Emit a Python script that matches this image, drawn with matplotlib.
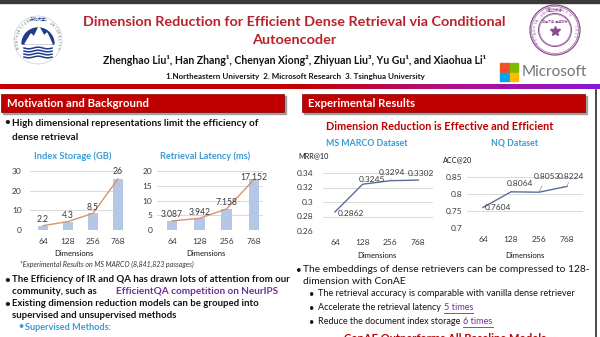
import numpy as np
import matplotlib.pyplot as plt
from matplotlib.patches import Rectangle, Circle, Polygon
from matplotlib.colors import LinearSegmentedColormap

plt.rcParams["font.family"] = ["Lato", "DejaVu Sans"]

# -----------------------------
# Data read off the poster
# -----------------------------
DIMS = ["64", "128", "256", "768"]
STORAGE_GB = [2.2, 4.3, 8.5, 26]
LATENCY_MS = [3.087, 3.942, 7.158, 17.152]
MRR10 = [0.2862, 0.3245, 0.3294, 0.3302]
ACC20 = [0.7604, 0.8064, 0.8053, 0.8224]

STORAGE_TICKS = [0, 10, 20, 30]
LATENCY_TICKS = [0, 5, 10, 15, 20]
MRR_TICKS = [0.26, 0.28, 0.3, 0.32, 0.34]
ACC_TICKS = [0.7, 0.75, 0.8, 0.85]

# -----------------------------
# Colours
# -----------------------------
RED = "#C00000"
TITLE_RED = "#B8232B"
CYAN = "#3A9BD5"
PURPLE = "#7030A0"
BAR_COLOR = "#B4C7E7"
TREND_COLOR = "#D9936B"
LINE_COLOR = "#5B6C9A"
GRID_COLOR = "#D9D9D9"
TICK_COLOR = "#3A3A3A"
TEXT = "#141414"

W, H = 600, 337
fig = plt.figure(figsize=(6, 3.37), dpi=100)
bg = fig.add_axes([0, 0, 1, 1])
bg.axis("off")


def px_axes(x0, y0, x1, y1):
    return fig.add_axes([x0 / W, 1 - y1 / H, (x1 - x0) / W, (y1 - y0) / H])


def txt(x, y, s, size, color=TEXT, weight="normal", ha="left", style="normal", **kw):
    return bg.text(x, y, s, fontsize=size, color=color, fontweight=weight,
                   ha=ha, va="center", fontstyle=style, **kw)


def right_edge(t):
    bb = t.get_window_extent(fig.canvas.get_renderer())
    return bg.transData.inverted().transform((bb.x1, bb.y0))[0]


# -----------------------------
# Header
# -----------------------------
bg.add_patch(Rectangle((0, 0), W, 3, color="#3A3A3A"))

band = LinearSegmentedColormap.from_list(
    "band", [(0, RED), (0.5, RED), (0.75, "#B0108A"), (1, "#8A18D8")])
bg.imshow(np.linspace(0, 1, 256)[None, :], extent=(0, W, 89, 84),
          cmap=band, aspect="auto")
bg.set_xlim(0, W)
bg.set_ylim(H, 0)

txt(294, 22, "Dimension Reduction for Efficient Dense Retrieval via Conditional",
    10.4, TITLE_RED, "bold", "center")
txt(294, 40, "Autoencoder", 10.4, TITLE_RED, "bold", "center")
txt(295, 60, "Zhenghao Liu¹, Han Zhang¹, Chenyan Xiong², Zhiyuan Liu³, Yu Gu¹, and Xiaohua Li¹",
    7.6, TEXT, "bold", "center")
txt(295, 77, "1.Northeastern University  2. Microsoft Research  3. Tsinghua University",
    5.8, TEXT, "bold", "center")

# Northeastern University logo
cx, cy = 38, 40
bg.add_patch(Circle((cx, cy), 24, fill=False, ec="#B8C0D0", lw=0.4))
t = np.linspace(0, np.pi, 60)
bg.add_patch(Polygon(np.c_[cx + 16 * np.cos(t), cy + 4 - 16 * np.sin(t)], color="#1E3C8C"))
bg.add_patch(Polygon([(25, 44), (31, 34), (34, 37), (39, 27), (44, 36), (47, 33), (52, 44)],
                     color="white"))
wx = np.linspace(24, 52, 40)
for k in range(4):
    bg.plot(wx, cy + 8 + 3 * k + 0.8 * np.sin((wx - 24) / 3.0), color="#1E3C8C", lw=1.1)
ring = "NORTHEASTERN 1923 UNIVERSITY"
for i, ch in enumerate(ring):
    a = np.deg2rad(200 - i * 220 / (len(ring) - 1))
    bg.text(cx + 20.5 * np.cos(a), cy - 20.5 * np.sin(a), ch, fontsize=2.3, color="#5A6478",
            ha="center", va="center", rotation=np.rad2deg(a) - 90)
bg.text(cx, cy - 21, "东北大学", fontsize=3, color="#1E3C8C", ha="center", va="center",
        family=["Noto Sans CJK SC", "DejaVu Sans"])

# Tsinghua logo
tx, ty = 555, 30
TS = "#8A4A8E"
for r, lw in [(25, 0.9), (23.5, 0.4), (16.5, 0.7), (15.5, 0.3)]:
    bg.add_patch(Circle((tx, ty), r, fill=False, ec=TS, lw=lw))
bg.plot(tx, ty + 1, marker="*", ms=7, color=TS)
ring = "TSINGHUA UNIVERSITY · 1911 ·"
for i, ch in enumerate(ring):
    a = np.deg2rad(215 - i * 250 / (len(ring) - 1))
    bg.text(tx + 20 * np.cos(a), ty - 20 * np.sin(a), ch, fontsize=2.4, color=TS,
            ha="center", va="center", rotation=np.rad2deg(a) - 90)
bg.text(tx, ty - 20, "清华大学", fontsize=3.2, color=TS, ha="center", va="center",
        family=["Noto Sans CJK SC", "DejaVu Sans"])
bg.text(tx, ty - 8, "自强不息  厚德载物", fontsize=2.2, color=TS, ha="center", va="center",
        family=["Noto Sans CJK SC", "DejaVu Sans"])

# Microsoft logo
for (x0, y0), c in zip([(500, 63), (509.5, 63), (500, 72.5), (509.5, 72.5)],
                       ["#F25022", "#7FBA00", "#00A4EF", "#FFB900"]):
    bg.add_patch(Rectangle((x0, y0), 8.7, 8.7, color=c))
txt(522, 72.5, "Microsoft", 11.0, "#737373")

# right border
bg.plot([595.5, 595.5], [90, H], color="#3C3C3C", lw=1.3)


# -----------------------------
# Section headers
# -----------------------------
def section(x0, x1, label):
    bg.add_patch(Rectangle((x0 + 1.5, 95.5), x1 - x0, 18, color="#A0A0A0"))
    bg.add_patch(Rectangle((x0, 94), x1 - x0, 18, fc=RED, ec="#8A0000", lw=0.5))
    txt(x0 + 6, 103.5, label, 8.2, "white", "bold")


section(1, 284, "Motivation and Background")
section(302, 585, "Experimental Results")

# -----------------------------
# Left column text
# -----------------------------
txt(4, 123, "•", 7, TEXT, "bold")
txt(12, 123, "High dimensional representations limit the efficiency of", 7.2, TEXT, "bold")
txt(12, 137, "dense retrieval", 7.2, TEXT, "bold")

txt(73, 156, "Index Storage (GB)", 6.7, CYAN, "bold", "center")
txt(205, 156, "Retrieval Latency (ms)", 6.6, CYAN, "bold", "center")
txt(74, 253, "Dimensions", 5.5, TEXT, ha="center")
txt(206, 253, "Dimensions", 5.5, TEXT, ha="center")
txt(20, 264, "*Experimental Results on MS MARCO (8,841,823 passages)", 5.0, "#333333",
    style="italic")

txt(4, 280, "•", 7, TEXT, "bold")
txt(12, 280, "The Efficiency of IR and QA has drawn lots of attention from our", 6.9, TEXT, "bold")
txt(12, 291, "community, such as", 6.9, TEXT, "bold")
txt(116, 291, "EfficientQA competition on NeurIPS", 7.2, PURPLE, "bold")
txt(4, 304, "•", 7, TEXT, "bold")
txt(12, 304, "Existing dimension reduction models can be grouped into", 6.9, TEXT, "bold")
txt(12, 315, "supervised and unsupervised methods", 6.9, TEXT, "bold")
txt(18, 327, "•", 6.5, CYAN, "bold")
txt(25, 327, "Supervised Methods:", 6.6, CYAN, "bold")

# -----------------------------
# Right column text
# -----------------------------
txt(440, 127, "Dimension Reduction is Effective and Efficient", 7.9, RED, "bold", "center")
txt(367, 143, "MS MARCO Dataset", 6.3, CYAN, "bold", "center")
txt(515, 143, "NQ Dataset", 6.3, CYAN, "bold", "center")
txt(298, 156, "MRR@10", 5.2, TEXT)
txt(443, 160, "ACC@20", 5.2, TEXT)
txt(377, 256, "Dimensions", 5.5, TEXT, ha="center")
txt(525, 256, "Dimensions", 5.5, TEXT, ha="center")

txt(296, 270, "•", 7, TEXT)
txt(303, 270, "The embeddings of dense retrievers can be compressed to 128-", 7.4, TEXT)
txt(303, 281, "dimension with ConAE", 7.4, TEXT)
txt(309, 294, "•", 6.5, TEXT)
txt(318, 294, "The retrieval accuracy is comparable with vanilla dense retriever", 6.6, TEXT)
for y, lead, link in [(308, "Accelerate the retrieval latency", "5 times"),
                      (322, "Reduce the document index storage", "6 times")]:
    txt(309, y, "•", 6.5, TEXT)
    x_end = right_edge(txt(318, y, lead, 6.5, TEXT)) + 3
    x_link = right_edge(txt(x_end, y, link, 6.6, PURPLE))
    bg.plot([x_end, x_link], [y + 5, y + 5], color=PURPLE, lw=0.6)
txt(445, 338, "ConAE Outperforms All Baseline Models", 8.0, RED, "bold", "center")


# -----------------------------
# Charts
# -----------------------------
def style_axes(ax, ticks, labels, xlim, ypad, xpad):
    ax.set_facecolor("none")
    for s in ax.spines.values():
        s.set_visible(False)
    ax.set_ylim(ticks[0], ticks[-1])
    ax.set_yticks(ticks, labels)
    ax.set_xlim(*xlim)
    ax.set_xticks(range(len(DIMS)), DIMS)
    ax.yaxis.grid(True, color=GRID_COLOR, lw=0.7)
    ax.set_axisbelow(True)
    ax.tick_params(axis="y", length=0, labelsize=6.0, colors=TICK_COLOR, pad=ypad)
    ax.tick_params(axis="x", length=0, labelsize=6.0, colors=TICK_COLOR, pad=xpad)


def bar_panel(ax, values, ticks, xlim, ypad, offsets):
    x = np.arange(len(values))
    style_axes(ax, ticks, [str(t) for t in ticks], xlim, ypad, 5.5)
    ax.bar(x, values, width=0.4, color=BAR_COLOR, zorder=2)
    ax.plot(x, values, color=TREND_COLOR, lw=1.0, zorder=3)
    for i, v in enumerate(values):
        ax.annotate(f"{v:g}", (i, v), xytext=offsets[i], textcoords="offset pixels",
                    ha="center", va="center", fontsize=6.2, color=TICK_COLOR,
                    annotation_clip=False, zorder=4)


def line_panel(ax, values, ticks, xlim, ypad, offsets, leaders):
    x = np.arange(len(values))
    style_axes(ax, ticks, [f"{t:g}" for t in ticks], xlim, ypad, 5.5)
    ax.plot(x, values, color=LINE_COLOR, lw=1.0, zorder=3)
    for i, v in enumerate(values):
        arrow = dict(arrowstyle="-", color="#8A8A8A", lw=0.5, shrinkA=3, shrinkB=0) \
            if leaders[i] else None
        ax.annotate(f"{v:g}", (i, v), xytext=offsets[i], textcoords="offset pixels",
                    ha="center", va="center", fontsize=6.0, color=TICK_COLOR,
                    arrowprops=arrow, annotation_clip=False, zorder=4)


ax1 = px_axes(30, 171, 123, 230)
bar_panel(ax1, STORAGE_GB, STORAGE_TICKS, (-0.52, 3.2), 6.0,
          [(0, 6), (0, 6), (0, 6), (0, 7)])

ax2 = px_axes(157, 171, 263, 230)
bar_panel(ax2, LATENCY_MS, LATENCY_TICKS, (-0.55, 3.33), 3.5,
          [(0, 6), (0, 6), (0, 6), (0, 2)])

ax3 = px_axes(323, 173, 433, 231)
line_panel(ax3, MRR10, MRR_TICKS, (-0.43, 3.54), 7.0,
           [(16, -1), (9, 5), (2, 8), (3, 7)], [False, False, True, True])

ax4 = px_axes(467, 177, 583, 228)
line_panel(ax4, ACC20, ACC_TICKS, (-0.57, 3.57), 3.5,
           [(15, 0), (9, 8), (8, 16), (4, 10)], [False, False, True, True])

plt.savefig("out.png", dpi=100)
plt.close()
